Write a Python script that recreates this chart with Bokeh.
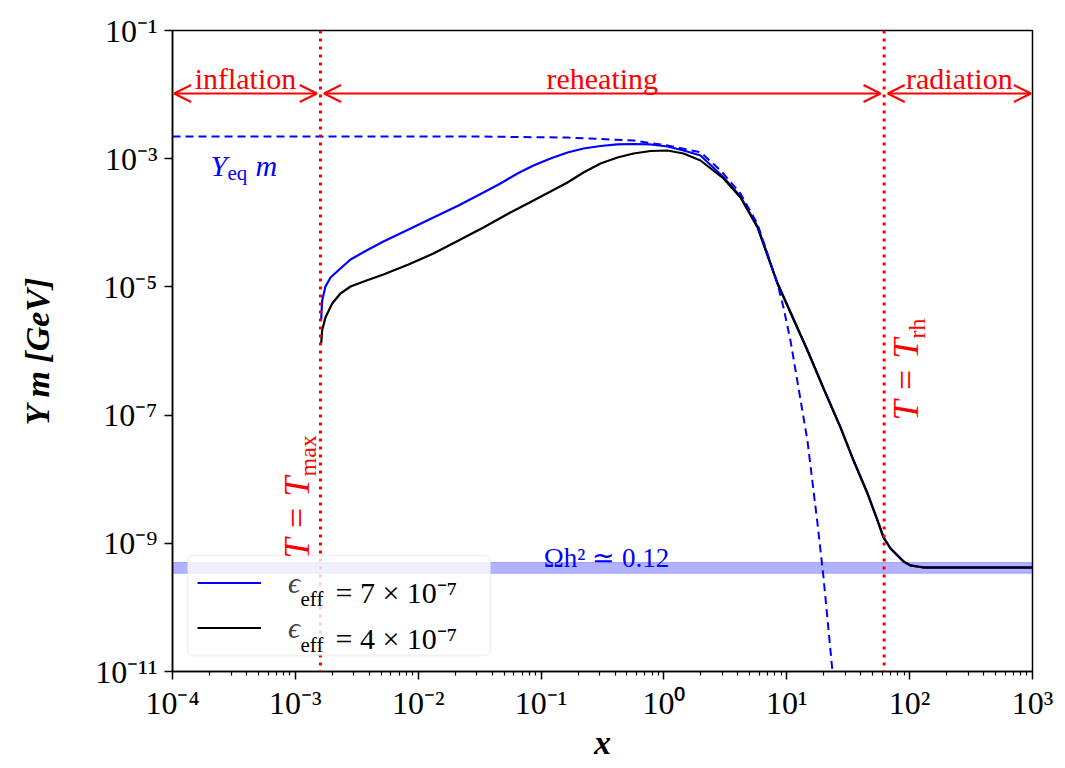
import math
from bokeh.plotting import figure
from bokeh.models import (Span, Arrow, OpenHead, Label, BoxAnnotation, Legend, LegendItem,
                          FixedTicker, CustomJSTickFormatter)
from bokeh.embed import file_html
from bokeh.resources import INLINE

# ---------------- data (as log10 values) ----------------
logx_blue = [-2.790, -2.782, -2.755, -2.714, -2.633, -2.551, -2.421, -2.283, -2.079, -1.876,
             -1.672, -1.469, -1.331, -1.192, -1.062, -0.923, -0.785, -0.655, -0.516, -0.378,
             -0.248, -0.109, 0.029, 0.159, 0.298, 0.485, 0.623, 0.762, 0.924, 1.168,
             1.299, 1.437, 1.543, 1.657, 1.738, 1.787, 1.844, 1.901, 1.950, 2.007, 2.113, 3.0]
logy_blue = [-5.524, -5.212, -4.994, -4.853, -4.713, -4.573, -4.432, -4.292, -4.105, -3.917,
             -3.730, -3.527, -3.387, -3.231, -3.106, -2.997, -2.903, -2.841, -2.802, -2.778,
             -2.771, -2.778, -2.810, -2.872, -2.950, -3.290, -3.590, -4.060, -4.940,
             -5.985, -6.580, -7.190, -7.705, -8.220, -8.640, -8.905, -9.078, -9.188, -9.282,
             -9.344, -9.376, -9.376]

logx_black = [-2.790, -2.782, -2.755, -2.700, -2.633, -2.551, -2.421, -2.283, -2.079, -1.876,
              -1.672, -1.469, -1.265, -1.062, -0.923, -0.785, -0.655, -0.516, -0.378, -0.248,
              -0.109, 0.029, 0.159, 0.298, 0.485, 0.623, 0.762, 0.924, 1.168, 1.299,
              1.437, 1.543, 1.657, 1.738, 1.787, 1.844, 1.901, 1.950, 2.007, 2.113, 3.0]
logy_black = [-5.883, -5.680, -5.477, -5.259, -5.103, -4.994, -4.900, -4.807, -4.651, -4.479,
              -4.276, -4.073, -3.855, -3.652, -3.512, -3.371, -3.215, -3.075, -2.981, -2.919,
              -2.880, -2.872, -2.919, -3.028, -3.309, -3.605, -4.073, -4.947, -5.992,
              -6.585, -7.193, -7.708, -8.223, -8.644, -8.909, -9.081, -9.190, -9.284, -9.346,
              -9.378, -9.378]

logx_eq = [-4.0, -1.5, -0.785, -0.248, 0.029, 0.298, 0.460, 0.623, 0.762, 0.924, 0.973, 1.030,
           1.168, 1.250, 1.299, 1.372, 1.400]
logy_eq = [-2.654, -2.654, -2.670, -2.716, -2.794, -2.899, -3.180, -3.543, -4.020, -4.947,
           -5.321, -5.836, -7.396, -8.691, -9.533, -11.0, -11.5]

x_Tmax = 1.6e-3
x_Trh = 62.0
omega_band = [3.4e-10, 5.0e-10]
arrow_y = 1.04e-2

phases = ["inflation", "reheating", "radiation"]
legend_values = ["= 7 × 10⁻⁷", "= 4 × 10⁻⁷"]

x_lim = [1e-4, 1e3]
y_lim = [1e-11, 1e-1]
x_ticks = [1e-4, 1e-3, 1e-2, 1e-1, 1e0, 1e1, 1e2, 1e3]
x_tick_labels = ["10⁻⁴", "10⁻³", "10⁻²", "10⁻¹", "10⁰", "10¹", "10²", "10³"]
x_minor = [k * t for t in x_ticks[:-1] for k in range(2, 10)]
y_ticks = [1e-11, 1e-9, 1e-7, 1e-5, 1e-3, 1e-1]
y_tick_labels = ["10⁻¹¹", "10⁻⁹", "10⁻⁷", "10⁻⁵", "10⁻³", "10⁻¹"]

x_blue = [10 ** v for v in logx_blue]
y_blue = [10 ** v for v in logy_blue]
x_black = [10 ** v for v in logx_black]
y_black = [10 ** v for v in logy_black]
x_eq = [10 ** v for v in logx_eq]
y_eq = [10 ** v for v in logy_eq]

FONT = "Liberation Serif"
RED = "#ff0000"
BLUE = "#0000ff"

# ---------------- figure ----------------
p = figure(x_axis_type="log", y_axis_type="log", x_range=x_lim, y_range=y_lim,
           frame_width=860, frame_height=641,
           min_border_left=172, min_border_right=25, min_border_top=30, min_border_bottom=92,
           output_backend="svg", toolbar_location=None)
p.grid.visible = False
p.outline_line_color = "black"
p.outline_line_width = 1.5
p.background_fill_color = "white"
p.border_fill_color = "white"

fmt_code = """
let best = 0, bd = Infinity;
for (let i = 0; i < tvals.length; i++) {
  const d = Math.abs(Math.log10(tvals[i]) - Math.log10(tick));
  if (d < bd) { bd = d; best = i; }
}
return tlabels[best];
"""
p.xaxis.ticker = FixedTicker(ticks=x_ticks, minor_ticks=x_minor)
p.xaxis.formatter = CustomJSTickFormatter(args=dict(tvals=x_ticks, tlabels=x_tick_labels), code=fmt_code)
p.yaxis.ticker = FixedTicker(ticks=y_ticks, minor_ticks=[])
p.yaxis.formatter = CustomJSTickFormatter(args=dict(tvals=y_ticks, tlabels=y_tick_labels), code=fmt_code)
for ax in (p.xaxis, p.yaxis):
    ax.major_label_text_font = FONT
    ax.major_label_text_font_size = "32px"
    ax.major_label_text_color = "black"
    ax.axis_line_width = 1.5
    ax.major_tick_line_width = 1.5
    ax.minor_tick_line_width = 1.2
    ax.major_tick_out = 8
    ax.major_tick_in = 0
    ax.minor_tick_out = 4
    ax.minor_tick_in = 0
    ax.major_label_standoff = 7
    ax.axis_label_text_font = FONT
    ax.axis_label_text_font_style = "bold italic"
    ax.axis_label_text_color = "black"

p.yaxis.axis_label = "Y m [GeV]"
p.yaxis.axis_label_text_font_size = "34px"
p.yaxis.axis_label_standoff = 36
p.xaxis.major_label_standoff = 5
p.xaxis.axis_label = "x"
p.xaxis.axis_label_text_font_size = "34px"
p.xaxis.axis_label_standoff = 0

# Omega band
p.add_layout(BoxAnnotation(bottom=omega_band[0], top=omega_band[1], fill_color=BLUE,
                           fill_alpha=0.3, line_color=BLUE, line_alpha=0.25, level="underlay"))

# curves
r_blue = p.line(x_blue, y_blue, line_color=BLUE, line_width=2.2)
r_black = p.line(x_black, y_black, line_color="black", line_width=2.2)
p.line(x_eq, y_eq, line_color=BLUE, line_width=2, line_dash="8 5")

# vertical dotted lines
for xv in (x_Tmax, x_Trh):
    p.add_layout(Span(location=xv, dimension="height", line_color=RED, line_width=3,
                      line_dash="3 5"))

# phase arrows + labels
gap = 1.07
edges = [(x_lim[0] * 1.03, x_Tmax / gap), (x_Tmax * gap, x_Trh / gap), (x_Trh * gap, x_lim[1] / 1.03)]
for name, (a, b) in zip(phases, edges):
    p.add_layout(Arrow(start=OpenHead(size=17, line_color=RED, line_width=2),
                       end=OpenHead(size=17, line_color=RED, line_width=2),
                       x_start=a, y_start=arrow_y, x_end=b, y_end=arrow_y,
                       line_color=RED, line_width=2))
    p.add_layout(Label(x=math.sqrt(a * b), y=arrow_y, y_offset=15, text=name,
                       text_align="center", text_baseline="alphabetic",
                       text_font=FONT, text_font_size="30px", text_color=RED))

# legend box (drawn as a box so that the legend texts can sit on top of it)
p.add_layout(BoxAnnotation(left=15, right=318, bottom=16, top=116,
                           left_units="screen", right_units="screen",
                           bottom_units="screen", top_units="screen",
                           fill_color="white", fill_alpha=0.8,
                           line_color="#cccccc", line_width=1.5, border_radius=6,
                           level="annotation"))

# helper for screen-positioned text (relative to the frame)
def slabel(x, y, text, size, color="black", style="normal", angle=0.0, align="left",
           baseline="alphabetic"):
    p.add_layout(Label(x=x, y=y, x_units="screen", y_units="screen", text=text,
                       text_font=FONT, text_font_size=size, text_color=color,
                       text_font_style=style, angle=angle, text_align=align,
                       text_baseline=baseline, level="overlay"))

# Y_eq m label
slabel(38, 506, "Y", "30px", BLUE, "italic")
slabel(55, 499, "eq", "21px", BLUE)
slabel(83, 506, "m", "30px", BLUE, "italic")

# Omega label
slabel(434, 114, "Ωh² ≃ 0.12", "27px", BLUE, align="center")

# rotated T labels
slabel(124, 113, "T = T", "36px", RED, "italic", angle=math.pi / 2)
slabel(135, 195, "max", "24px", RED, angle=math.pi / 2)
slabel(733, 251, "T = T", "36px", RED, "italic", angle=math.pi / 2)
slabel(744, 333, "rh", "24px", RED, angle=math.pi / 2)

# legend (glyphs + epsilon); the box is drawn above
legend = Legend(items=[LegendItem(label="ϵ", renderers=[r_blue]),
                       LegendItem(label="ϵ", renderers=[r_black])],
                location=(15, 16), glyph_width=64, glyph_height=35, label_height=35,
                label_width=196, padding=10, spacing=10, label_standoff=27,
                label_text_font=FONT, label_text_font_size="30px",
                label_text_font_style="italic",
                border_line_alpha=0, background_fill_alpha=0)
p.add_layout(legend)
slabel(128, 73, "eff", "21px")
slabel(163, 79, legend_values[0], "30px")
slabel(128, 27, "eff", "21px")
slabel(163, 33, legend_values[1], "30px")

open("out.html", "w").write(file_html(p, INLINE))
